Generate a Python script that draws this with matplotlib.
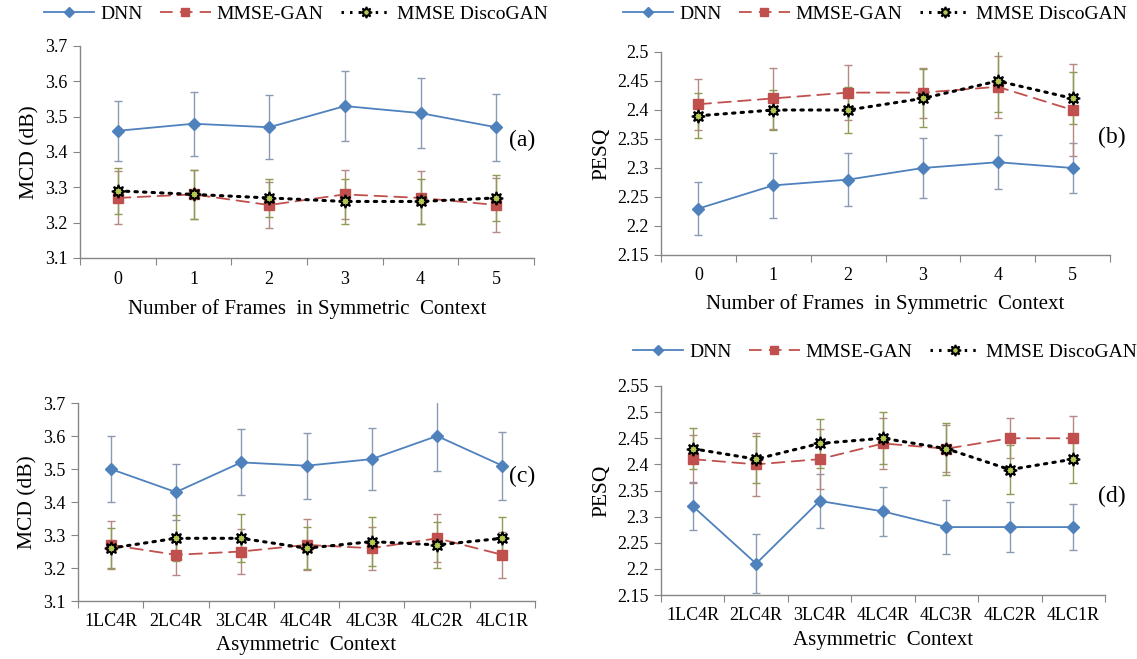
import matplotlib
matplotlib.use("Agg")
import matplotlib.pyplot as plt
from matplotlib.lines import Line2D
import numpy as np

plt.rcParams['font.family'] = ['Liberation Serif', 'DejaVu Serif']

# ---- data ---------------------------------------------------------------
sym_frames = ['0', '1', '2', '3', '4', '5']
asym_ctx = ['1LC4R', '2LC4R', '3LC4R', '4LC4R', '4LC3R', '4LC2R', '4LC1R']

# (a) MCD vs symmetric context
mcd_sym_dnn = [3.46, 3.48, 3.47, 3.53, 3.51, 3.47]
mcd_sym_dnn_err = [0.085, 0.09, 0.09, 0.10, 0.10, 0.095]
mcd_sym_gan = [3.27, 3.28, 3.25, 3.28, 3.27, 3.25]
mcd_sym_gan_err = [0.075, 0.07, 0.066, 0.07, 0.075, 0.077]
mcd_sym_disco = [3.29, 3.28, 3.27, 3.26, 3.26, 3.27]
mcd_sym_disco_err = [0.065, 0.07, 0.055, 0.063, 0.065, 0.065]

# (b) PESQ vs symmetric context
pesq_sym_dnn = [2.23, 2.27, 2.28, 2.30, 2.31, 2.30]
pesq_sym_dnn_err = [0.046, 0.056, 0.046, 0.051, 0.047, 0.043]
pesq_sym_gan = [2.41, 2.42, 2.43, 2.43, 2.44, 2.40]
pesq_sym_gan_err = [0.044, 0.052, 0.048, 0.043, 0.053, 0.08]
pesq_sym_disco = [2.39, 2.40, 2.40, 2.42, 2.45, 2.42]
pesq_sym_disco_err = [0.039, 0.035, 0.04, 0.05, 0.053, 0.045]

# (c) MCD vs asymmetric context
mcd_asym_dnn = [3.50, 3.43, 3.52, 3.51, 3.53, 3.60, 3.51]
mcd_asym_dnn_err = [0.10, 0.085, 0.10, 0.10, 0.094, 0.107, 0.103]
mcd_asym_gan = [3.27, 3.24, 3.25, 3.27, 3.26, 3.29, 3.24]
mcd_asym_gan_err = [0.073, 0.06, 0.068, 0.077, 0.065, 0.073, 0.07]
mcd_asym_disco = [3.26, 3.29, 3.29, 3.26, 3.28, 3.27, 3.29]
mcd_asym_disco_err = [0.06, 0.07, 0.073, 0.063, 0.074, 0.07, 0.064]

# (d) PESQ vs asymmetric context
pesq_asym_dnn = [2.32, 2.21, 2.33, 2.31, 2.28, 2.28, 2.28]
pesq_asym_dnn_err = [0.046, 0.056, 0.052, 0.047, 0.051, 0.048, 0.044]
pesq_asym_gan = [2.41, 2.40, 2.41, 2.44, 2.43, 2.45, 2.45]
pesq_asym_gan_err = [0.046, 0.06, 0.057, 0.048, 0.045, 0.038, 0.043]
pesq_asym_disco = [2.43, 2.41, 2.44, 2.45, 2.43, 2.39, 2.41]
pesq_asym_disco_err = [0.039, 0.045, 0.047, 0.05, 0.05, 0.047, 0.046]

series_names = ['DNN', 'MMSE-GAN', 'MMSE DiscoGAN']

# ---- styles -------------------------------------------------------------
BLUE = '#4F81BD'
RED = '#C0504D'
AXIS_GREY = '#868686'
styles = [
    dict(color=BLUE, ls='-', lw=1.3, marker='D', ms=6, mfc=BLUE, mec=BLUE,
         mew=1.0),
    dict(color=RED, ls=(0, (7, 4)), lw=1.3, marker='s', ms=7, mfc=RED, mec=RED,
         mew=1.0),
    dict(color='black', ls=(0, (0.8, 2.0)), lw=2.2, marker=(8, 1, 0), ms=9.5,
         mfc='#b5c850', mec='black', mew=1.3),
]
err_colors = ['#8b9ab3', '#b58a84', '#8f9a55']

W, H = 1137, 659
fig = plt.figure(figsize=(W / 100, H / 100), dpi=100)


def add_axes(px_left, px_top, px_right, px_bottom):
    return fig.add_axes([px_left / W, 1 - px_bottom / H,
                         (px_right - px_left) / W, (px_bottom - px_top) / H])


def draw_panel(ax, cats, data, ylim, yticks, ylabels, ylabel, xlabel,
               tag, tag_xy, xpad):
    x = np.arange(len(cats))
    for (vals, errs), st, ec in zip(data, styles, err_colors):
        ax.errorbar(x, vals, yerr=errs, fmt='none', ecolor=ec,
                    elinewidth=1.0, capsize=2.8, capthick=1.0, zorder=2)
        ln, = ax.plot(x, vals, zorder=3, **st)
        ln.set_dash_capstyle('round')
    ax.set_xlim(-0.5, len(cats) - 0.5)
    ax.set_ylim(*ylim)
    ax.set_yticks(yticks)
    ax.set_yticklabels(ylabels)
    # category boundaries carry the tick marks, labels sit at the centres
    ax.set_xticks(np.arange(len(cats) + 1) - 0.5)
    ax.set_xticklabels([])
    ax.set_xticks(x, minor=True)
    ax.set_xticklabels(cats, minor=True)
    ax.tick_params(axis='x', which='major', length=5, color=AXIS_GREY,
                   direction='out')
    ax.tick_params(axis='x', which='minor', length=0, pad=9, labelsize=13)
    ax.tick_params(axis='y', length=5, color=AXIS_GREY, direction='out',
                   pad=4, labelsize=13)
    for side in ('top', 'right'):
        ax.spines[side].set_visible(False)
    for side in ('left', 'bottom'):
        ax.spines[side].set_color(AXIS_GREY)
        ax.spines[side].set_linewidth(1.0)
    ax.set_ylabel(ylabel, fontsize=15.5)
    ax.set_xlabel(xlabel, fontsize=15, labelpad=xpad)
    ax.set_facecolor('none')
    fig.text(tag_xy[0] / W, 1 - tag_xy[1] / H, tag, fontsize=17,
             ha='center', va='center')


def fmt(vals):
    return [f'{v:.2f}'.rstrip('0').rstrip('.') for v in vals]


mcd_ticks = np.round(np.arange(3.1, 3.71, 0.1), 2)
pesq_ticks_b = np.round(np.arange(2.15, 2.501, 0.05), 2)
pesq_ticks_d = np.round(np.arange(2.15, 2.551, 0.05), 2)

ax_a = add_axes(80, 46, 534, 258)
draw_panel(ax_a, sym_frames,
           [(mcd_sym_dnn, mcd_sym_dnn_err), (mcd_sym_gan, mcd_sym_gan_err),
            (mcd_sym_disco, mcd_sym_disco_err)],
           (3.1, 3.7), mcd_ticks, fmt(mcd_ticks), 'MCD (dB)',
           'Number of Frames  in Symmetric  Context', '(a)', (522, 140), 8)

ax_b = add_axes(661, 52, 1110, 255)
draw_panel(ax_b, sym_frames,
           [(pesq_sym_dnn, pesq_sym_dnn_err), (pesq_sym_gan, pesq_sym_gan_err),
            (pesq_sym_disco, pesq_sym_disco_err)],
           (2.15, 2.5), pesq_ticks_b, fmt(pesq_ticks_b), 'PESQ',
           'Number of Frames  in Symmetric  Context', '(b)', (1112, 137), 7)

ax_c = add_axes(78, 403, 535, 601)
draw_panel(ax_c, asym_ctx,
           [(mcd_asym_dnn, mcd_asym_dnn_err), (mcd_asym_gan, mcd_asym_gan_err),
            (mcd_asym_disco, mcd_asym_disco_err)],
           (3.1, 3.7), mcd_ticks, fmt(mcd_ticks), 'MCD (dB)',
           'Asymmetric  Context', '(c)', (522, 476), 4)

ax_d = add_axes(661, 386, 1105, 595)
draw_panel(ax_d, asym_ctx,
           [(pesq_asym_dnn, pesq_asym_dnn_err), (pesq_asym_gan, pesq_asym_gan_err),
            (pesq_asym_disco, pesq_asym_disco_err)],
           (2.15, 2.55), pesq_ticks_d, fmt(pesq_ticks_d), 'PESQ',
           'Asymmetric  Context', '(d)', (1112, 496), 5)

# legend entries: plain line + marker
handles = []
for st in styles:
    s = dict(st)
    if s['marker'] == 'D':
        s['ms'] = 5
    elif s['marker'] == 's':
        s['ms'] = 6
    else:
        s['ms'] = 8
    handles.append(Line2D([], [], **s))

legend_kw = dict(ncol=3, frameon=False, fontsize=14, handlelength=2.6,
                 columnspacing=0.9, handletextpad=0.3, loc='center')
for cx, cy in [(296, 14), (875, 14), (885, 352)]:
    fig.legend(handles, series_names, bbox_to_anchor=(cx / W, 1 - cy / H),
               **legend_kw)

fig.savefig('out.png', dpi=100)
